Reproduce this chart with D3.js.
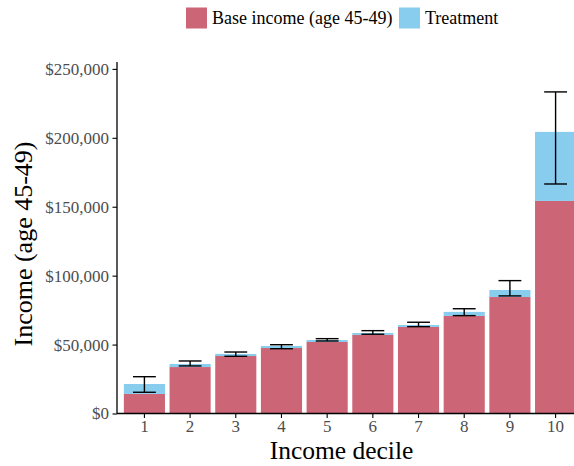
<!DOCTYPE html>
<html>
<head>
<meta charset="utf-8">
<script src="https://cdn.jsdelivr.net/npm/d3@7"></script>
<style>
  html, body { margin: 0; padding: 0; background: #fff; }
  svg { display: block; font-family: "Liberation Serif", "Times New Roman", serif; }
</style>
</head>
<body>
<svg id="chart" width="574" height="466"></svg>
<script>
// Income deciles and stacked components (USD)
const deciles = ["1", "2", "3", "4", "5", "6", "7", "8", "9", "10"];
const baseIncome = [14200, 33700, 41700, 47500, 51900, 57000, 62800, 70800, 84500, 154200];
const treatment  = [7200, 2200, 1500, 1500, 1400, 1400, 1400, 2900, 5100, 50100];
const errLow  = [15400, 34500, 41500, 47000, 52600, 57500, 63000, 71000, 85300, 166500];
const errHigh = [26700, 38100, 44600, 49900, 54300, 60100, 66200, 76000, 96400, 233300];
const yTicks = [0, 50000, 100000, 150000, 200000, 250000];
const seriesNames = ["Base income (age 45-49)", "Treatment"];
const colors = ["#CC6677", "#88CCEE"];

const svg = d3.select("#chart");
const plotLeft = 117, plotRight = 583, plotBottom = 413.5, plotTop = 62;

const x = d3.scaleBand().domain(deciles).range([plotLeft, plotRight])
  .paddingInner(0.1).paddingOuter(0.15);
const y = d3.scaleLinear().domain([0, 255000]).range([plotBottom, plotTop]);

const rows = deciles.map((d, i) => ({
  decile: d, base: baseIncome[i], treat: treatment[i], lo: errLow[i], hi: errHigh[i]
}));

// Bars: base income, then the treatment increment stacked on top
const bars = svg.append("g");
bars.selectAll("rect.base").data(rows).join("rect")
  .attr("class", "base")
  .attr("x", d => x(d.decile)).attr("width", x.bandwidth())
  .attr("y", d => y(d.base)).attr("height", d => y(0) - y(d.base))
  .attr("fill", colors[0]);
bars.selectAll("rect.treat").data(rows).join("rect")
  .attr("class", "treat")
  .attr("x", d => x(d.decile)).attr("width", x.bandwidth())
  .attr("y", d => y(d.base + d.treat)).attr("height", d => y(d.base) - y(d.base + d.treat))
  .attr("fill", colors[1]);

// Error bars
const capW = x.step() * 0.5;
const eb = svg.append("g").attr("stroke", "#000").attr("stroke-width", 1.4).attr("fill", "none");
rows.forEach(d => {
  const cx = x(d.decile) + x.bandwidth() / 2;
  eb.append("line").attr("x1", cx).attr("x2", cx).attr("y1", y(d.lo)).attr("y2", y(d.hi));
  eb.append("line").attr("x1", cx - capW / 2).attr("x2", cx + capW / 2).attr("y1", y(d.lo)).attr("y2", y(d.lo));
  eb.append("line").attr("x1", cx - capW / 2).attr("x2", cx + capW / 2).attr("y1", y(d.hi)).attr("y2", y(d.hi));
});

// Axes
const fmt = d3.format("$,.0f");
const yAxis = svg.append("g").attr("transform", `translate(${plotLeft},0)`)
  .call(d3.axisLeft(y).tickValues(yTicks).tickFormat(fmt).tickSize(4.5).tickPadding(3.5));
const xAxis = svg.append("g").attr("transform", `translate(0,${plotBottom})`)
  .call(d3.axisBottom(x).tickSize(4.5).tickPadding(2));
[yAxis, xAxis].forEach(g => {
  g.select(".domain").attr("stroke", "#000").attr("stroke-width", 1.3);
  g.selectAll(".tick line").attr("stroke", "#000").attr("stroke-width", 1.1);
  g.selectAll(".tick text").attr("fill", "#4D4D4D").attr("font-size", 17)
    .attr("font-family", "Liberation Serif, serif");
});
yAxis.select(".domain").attr("d", `M0,${plotBottom}V${plotTop}`);
xAxis.select(".domain").attr("d", `M${plotLeft},0H${plotRight}`);

// Axis titles
svg.append("text").attr("x", 341.5).attr("y", 459).attr("text-anchor", "middle")
  .attr("font-size", 25.5).attr("fill", "#000").text("Income decile");
svg.append("text").attr("transform", "translate(32,244) rotate(-90)").attr("text-anchor", "middle")
  .attr("font-size", 26).attr("fill", "#000").text("Income (age 45-49)");

// Legend
const legendPos = [186, 399];
const lg = svg.append("g");
seriesNames.forEach((name, i) => {
  lg.append("rect").attr("x", legendPos[i]).attr("y", 7.5).attr("width", 21).attr("height", 21)
    .attr("fill", colors[i]);
  lg.append("text").attr("x", legendPos[i] + 26).attr("y", 23.5).attr("font-size", 18)
    .attr("fill", "#000").text(name);
});
</script>
</body>
</html>
